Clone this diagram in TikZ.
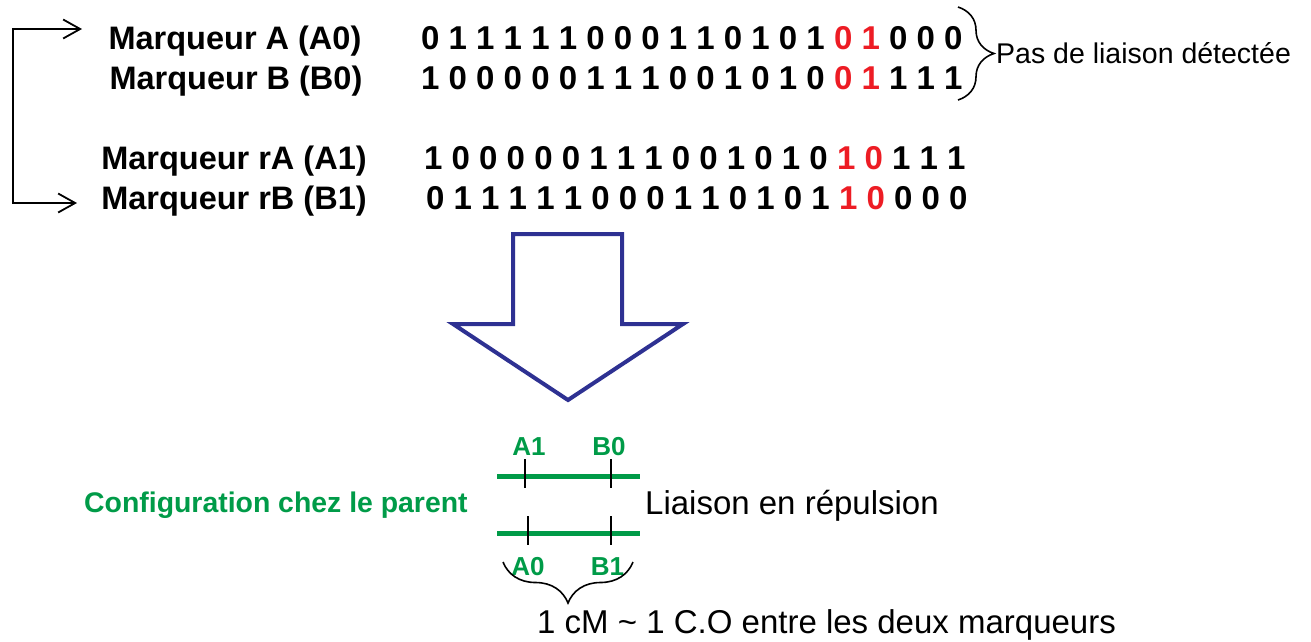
\documentclass[tikz,border=0pt]{standalone}
\usepackage{fontspec}
\setmainfont{Liberation Sans}
\usetikzlibrary{arrows.meta,positioning,decorations.pathreplacing}
\definecolor{rouge}{RGB}{237,28,36}
\definecolor{vert}{RGB}{0,155,72}
\definecolor{marine}{RGB}{46,49,146}
\newcommand{\rg}[1]{\textcolor{rouge}{#1}}
\tikzset{
  marq/.style={font=\fontsize{32.5}{39}\selectfont\bfseries,anchor=base,inner sep=0pt},
  seq/.style={font=\fontsize{33}{39}\selectfont\bfseries,anchor=base west,inner sep=0pt},
  txt/.style={font=\fontsize{33}{39}\selectfont,anchor=base west,inner sep=0pt},
  lbl/.style={font=\fontsize{26}{31}\selectfont\bfseries,text=vert,inner sep=0pt},
  accol/.style={decorate,decoration={brace,amplitude=#1},line width=1.6pt},
  chromo/.style={vert,line width=5pt},
  repere/.style={black,line width=1.8pt},
}
\begin{document}
\begin{tikzpicture}[x=1pt,y=-1pt]
\useasboundingbox (0,0) rectangle (1311,641);
% \draw[help lines,step=100] (0,0) grid (1311,641);
\node (mA) [marq] at (235,49) {Marqueur A (A0)};
\node (mB) [marq] at (236,89) {Marqueur B (B0)};
\node (mrA) [marq] at (234,169) {Marqueur rA (A1)};
\node (mrB) [marq] at (234,209) {Marqueur rB (B1)};
%
\node (sA) [seq] at (421,49) {0 1 1 1 1 1 0 0 0 1 1 0 1 0 1 \rg{0 1} 0 0 0};
\node (sB) [seq] at (421,89) {1 0 0 0 0 0 1 1 1 0 0 1 0 1 0 \rg{0 1} 1 1 1};
\node (srA) [seq] at (424,169) {1 0 0 0 0 0 1 1 1 0 0 1 0 1 0 \rg{1 0} 1 1 1};
\node (srB) [seq] at (426,209) {0 1 1 1 1 1 0 0 0 1 1 0 1 0 1 \rg{1 0} 0 0 0};
%
\coordinate (gA) at (82,29);
\coordinate (grB) at (77,203);
\draw[{Straight Barb[length=17pt,width=19pt]}-{Straight Barb[length=17pt,width=19pt]},line width=1.8pt]
  (gA) -- ++(-69,0) |- (grB);
%
\coordinate (bh) at (958,7);
\coordinate (bb) at (958,100);
\draw[accol=36pt] (bh) -- (bb);
\node (pas) [txt,font=\fontsize{28.5}{34}\selectfont] at (996,63) {Pas de liaison détectée};
%
\draw[marine,line width=4pt,line join=miter]
  (513,234) -- (622,234) -- (622,324) -- (683,324) -- (568,400) -- (453,324) -- (513,324) -- cycle;
%
\coordinate (c1g) at (497,476);
\coordinate (c1d) at (640,476);
\coordinate (c2g) at (497,533);
\coordinate (c2d) at (640,533);
\draw[chromo] (c1g) -- (c1d);
\draw[chromo] (c2g) -- (c2d);
\coordinate (tA1) at (525,476);
\coordinate (tB0) at (611,476);
\coordinate (tA0) at (528,533);
\coordinate (tB1) at (611,533);
\foreach \t in {tA1,tB0,tA0,tB1}
  \draw[repere] (\t) ++(0,-17) -- ++(0,29);
\node (lA1) [lbl,above=20pt of tA1,xshift=4pt] {A1};
\node (lB0) [lbl,above=20pt of tB0,xshift=-2pt] {B0};
\node (lA0) [lbl,below=24pt of tA0] {A0};
\node (lB1) [lbl,below=24pt of tB1,xshift=-3.5pt] {B1};
%
\node (conf) [txt,font=\fontsize{28.4}{34}\selectfont\bfseries,text=vert] at (84,512) {Configuration chez le parent};
\node (rep) [txt] at (645,514) {Liaison en répulsion};
%
\coordinate (bg) at (503,562);
\coordinate (bd) at (633,562);
\draw[accol=41pt] (bd) -- (bg);
\node (cm) [txt] at (537,633) {1 cM \textasciitilde{} 1 C.O entre les deux marqueurs};
\end{tikzpicture}
\end{document}
